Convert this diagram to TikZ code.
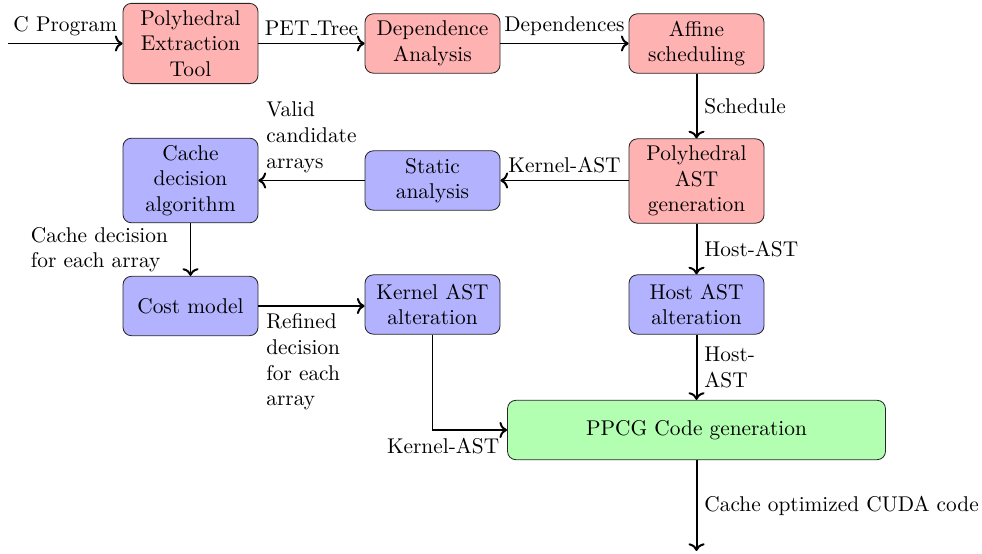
\documentclass[tikz,border=0pt]{standalone}
\usetikzlibrary{arrows.meta}
\begin{document}
\begin{tikzpicture}[x=0.48pt,y=-0.48pt,
  every node/.style={font=\fontsize{10.25pt}{12.3pt}\selectfont},
  box/.style={draw=black!85, rounded corners=4pt, align=center, minimum width=64.8pt, minimum height=28.5pt, inner sep=3.33pt},
  redbox/.style={box, fill=red!30},
  bluebox/.style={box, fill=blue!30},
  greenbox/.style={box, fill=green!30},
  flow/.style={->, line width=0.95pt},
  lbl/.style={align=left}]
\useasboundingbox (0,0) rectangle (982,554);
\node[redbox] (pet) at (190.5,43.5) {Polyhedral\\Extraction\\Tool};
\node[redbox] (dep) at (432.5,43.5) {Dependence\\Analysis};
\node[redbox] (aff) at (696.5,43.5) {Affine\\scheduling};
\node[redbox] (ast) at (696.5,181) {Polyhedral\\AST\\generation};
\node[bluebox] (sta) at (432.5,180.5) {Static\\analysis};
\node[bluebox] (cda) at (190.5,180.5) {Cache\\decision\\algorithm};
\node[bluebox] (cost) at (190.5,306) {Cost model};
\node[bluebox] (kalt) at (432.5,304.5) {Kernel AST\\alteration};
\node[bluebox] (halt) at (696.5,304.5) {Host AST\\alteration};
\node[greenbox, minimum width=181.4pt] (ppcg) at (696.5,430) {PPCG Code generation};
\coordinate (in) at (8,43.5);
\coordinate (out) at (696.5,551);

\draw[flow] (in) -- node[above] {C Program} (pet);
\draw[flow] (pet) -- node[above] {PET\kern.06em\vbox{\hrule width.3em}Tree} (dep);
\draw[flow] (dep) -- node[above] {Dependences} (aff);
\draw[flow] (aff) -- node[right] {Schedule} (ast);
\draw[flow] (ast.west |- sta) -- node[above] {Kernel-AST} (sta);
\draw[flow] (sta) -- node[pos=1, above right, lbl] {Valid\\candidate\\arrays} (cda);
\draw[flow] (cda) -- node[left=7pt, lbl] {Cache decision\\for each array} (cost);
\draw[flow] (cost.east) -- node[pos=0, below right, lbl] {Refined\\decision\\for each\\array} (kalt.west |- cost.east);
\draw[flow] (ast) -- node[right] {Host-AST} (halt);
\draw[flow] (halt) -- node[right, lbl] {Host-\\AST} (ppcg);
\draw[flow] (kalt) |- node[pos=1, below left] {Kernel-AST} (ppcg);
\draw[flow] (ppcg) -- node[right] {Cache optimized CUDA code} (out);
\end{tikzpicture}
\end{document}
